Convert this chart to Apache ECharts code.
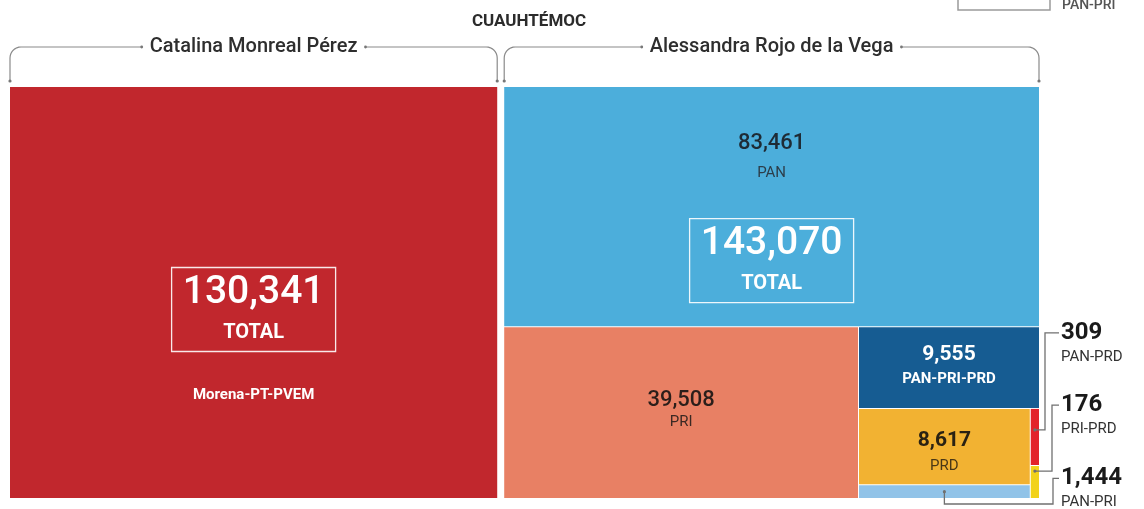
<!DOCTYPE html>
<html>
<head>
<meta charset="utf-8">
<script src="https://cdn.jsdelivr.net/npm/echarts@6/dist/echarts.min.js"></script>
<style>
  html, body { margin: 0; padding: 0; background: #fff; }
  #chart { width: 1144px; height: 509px; }
</style>
</head>
<body>
<div id="chart"></div>
<script>
// ---- data ----
const title = 'CUAUHTÉMOC';
const candidates = ['Catalina Monreal Pérez', 'Alessandra Rojo de la Vega'];
const candidateTotals = [130341, 143070];
const parties = ['Morena-PT-PVEM', 'PAN', 'PRI', 'PAN-PRI-PRD', 'PRD', 'PAN-PRI', 'PAN-PRD', 'PRI-PRD'];
const votes = [130341, 83461, 39508, 9555, 8617, 1444, 309, 176];
const partyCandidate = [0, 1, 1, 1, 1, 1, 1, 1];

// how boxes are cut: 'h' = side by side, 'v' = stacked, numbers = party index
const cuts = ['h', 0, ['v', 1, ['h', 2, ['v', 3, ['h', ['v', 4, 5], ['v', 6, 7]]]]]];

// ---- styles ----
const partyColors = ['#c1272d', '#4caedb', '#e88064', '#165c92', '#f2b232', '#91c3e8', '#e3232b', '#f2d21b'];
const FONT = 'Roboto, "Noto Sans", sans-serif';
// [dx, dy, color, weight, size] from box centre
const leafText = {
  0: { name: [0, 103, '#ffffff', 'bold', 15] },
  1: { value: [0, -63, '#1e2b35', 500, 22], name: [0, -33, '#2c3e4a', 'normal', 15] },
  2: { value: [0, -12, '#2b1e1a', 500, 22], name: [0, 10, '#3b2823', 'normal', 15] },
  3: { value: [0, -13, '#ffffff', 'bold', 21], name: [0, 12, '#ffffff', 'bold', 15] },
  4: { value: [0, -6, '#2a2213', 'bold', 21], name: [0, 20, '#4a3816', 'normal', 15] }
};
// callouts for the tiny boxes (offsets from the box, in px)
const callouts = {
  5: { sy: 0.5, under: 6, elbow: 14, ly: -7 },
  6: { sy: 21, elbow: 6, ly: -76 },
  7: { sy: 5, elbow: 13, ly: -61 }
};
const totalBox = [{ leaf: 0, dy: 17 }, { leaf: 1, dy: 54 }];

const fmt = v => echarts.format.addCommas(v);
const measureCtx = document.createElement('canvas').getContext('2d');
function textWidth(text, font) { measureCtx.font = font; return measureCtx.measureText(text).width; }

function sumOf(node) {
  return typeof node === 'number' ? votes[node] : node.slice(1).reduce((s, n) => s + sumOf(n), 0);
}
function cut(node, r, depth, out) {
  if (depth === 1) out.groups.push(r);
  if (typeof node === 'number') { out.leaves[node] = r; return; }
  const dir = node[0], kids = node.slice(1);
  const gap = depth === 0 ? 7 : 1;
  const total = sumOf(node);
  const span = (dir === 'h' ? r.w : r.h) - gap * (kids.length - 1);
  let pos = dir === 'h' ? r.x : r.y;
  kids.forEach(k => {
    const len = span * sumOf(k) / total;
    const sub = dir === 'h' ? { x: pos, y: r.y, w: len, h: r.h } : { x: r.x, y: pos, w: r.w, h: len };
    cut(k, sub, depth + 1, out);
    pos += len + gap;
  });
}
function layout(api) {
  const a = api.coord([0, 1]), b = api.coord([1, 0]);
  const out = { leaves: [], groups: [] };
  cut(cuts, { x: a[0], y: a[1], w: b[0] - a[0], h: b[1] - a[1] }, 0, out);
  return out;
}
function txt(text, x, y, fill, weight, size, align) {
  return {
    type: 'text', x: x, y: y, z2: 10,
    style: { text: text, fill: fill, fontWeight: weight, fontSize: size, fontFamily: FONT,
      align: align || 'center', verticalAlign: 'middle' }
  };
}
function arcPts(cx, cy, r, a0, a1) {
  const pts = [];
  for (let i = 0; i <= 8; i++) {
    const a = a0 + (a1 - a0) * i / 8;
    pts.push([cx + r * Math.cos(a), cy + r * Math.sin(a)]);
  }
  return pts;
}

function renderParty(params, api) {
  const i = api.value(0);
  const L = layout(api);
  const r = L.leaves[i];
  const g = L.groups[partyCandidate[i]];
  const cx = r.x + r.w / 2, cy = r.y + r.h / 2;
  const kids = [{ type: 'rect', shape: { x: r.x, y: r.y, width: r.w, height: r.h }, style: { fill: partyColors[i] } }];
  const t = leafText[i];
  if (t) {
    if (t.value) kids.push(txt(fmt(votes[i]), cx + t.value[0], cy + t.value[1], t.value[2], t.value[3], t.value[4]));
    if (t.name) kids.push(txt(parties[i], cx + t.name[0], cy + t.name[1], t.name[2], t.name[3], t.name[4]));
  }
  const c = callouts[i];
  if (c) {
    const right = g.x + g.w;
    const sy = c.sy < 1 ? r.y + r.h * c.sy : r.y + c.sy;
    const ly = r.y + c.ly;
    const ex = right + c.elbow;
    let pts;
    if (c.under) {
      const uy = r.y + r.h + c.under;
      pts = [[cx, sy], [cx, uy], [ex, uy], [ex, ly], [right + 20, ly]];
    } else {
      pts = [[cx, sy], [ex, sy], [ex, ly], [right + 20, ly]];
    }
    kids.push({ type: 'polyline', z2: 5, shape: { points: pts }, style: { stroke: '#707070', lineWidth: 1.3, fill: null } });
    kids.push({ type: 'circle', z2: 5, shape: { cx: cx, cy: sy, r: 1.6 }, style: { fill: '#707070' } });
    kids.push(txt(fmt(votes[i]), right + 22, ly, '#1a1a1a', 'bold', 24, 'left'));
    kids.push(txt(parties[i], right + 22, ly + 24, '#333333', 'normal', 15, 'left'));
  }
  return { type: 'group', children: kids };
}

function renderCandidate(params, api) {
  const k = api.value(0);
  const L = layout(api);
  const g = L.groups[k];
  const x0 = g.x, x1 = g.x + g.w, mid = g.x + g.w / 2;
  const yLine = g.y - 40, yEnd = g.y - 6, R = 11;
  const nameFont = '500 20px ' + FONT;
  const half = textWidth(candidates[k], nameFont) / 2 + 8;
  const lineStyle = { stroke: '#8a8a8a', lineWidth: 1.2, fill: null };
  const left = [[x0, yEnd]].concat(arcPts(x0 + R, yLine + R, R, Math.PI, Math.PI * 1.5), [[mid - half, yLine]]);
  const right = [[mid + half, yLine]].concat(arcPts(x1 - R, yLine + R, R, -Math.PI / 2, 0), [[x1, yEnd]]);
  const kids = [
    { type: 'polyline', shape: { points: left }, style: lineStyle },
    { type: 'polyline', shape: { points: right }, style: lineStyle },
    { type: 'circle', shape: { cx: x0, cy: yEnd, r: 1.6 }, style: { fill: '#777' } },
    { type: 'circle', shape: { cx: x1, cy: yEnd, r: 1.6 }, style: { fill: '#777' } },
    { type: 'circle', shape: { cx: mid - half, cy: yLine, r: 1.4 }, style: { fill: '#777' } },
    { type: 'circle', shape: { cx: mid + half, cy: yLine, r: 1.4 }, style: { fill: '#777' } },
    txt(candidates[k], mid, yLine, '#2e2e2e', 500, 20)
  ];
  // total box over the biggest party of the candidate
  const tb = totalBox[k];
  const lr = L.leaves[tb.leaf];
  const bx = lr.x + lr.w / 2, by = lr.y + lr.h / 2 + tb.dy;
  kids.push({ type: 'rect', z2: 10, shape: { x: bx - 82, y: by - 42, width: 164, height: 84 },
    style: { fill: null, stroke: 'rgba(255,255,255,0.9)', lineWidth: 1.3 } });
  kids.push(txt(fmt(candidateTotals[k]), bx, by - 16, '#ffffff', 500, 39));
  kids.push(txt('TOTAL', bx, by + 23, '#ffffff', 'bold', 20));
  return { type: 'group', children: kids };
}

const chart = echarts.init(document.getElementById('chart'));
chart.setOption({
  animation: false,
  backgroundColor: '#ffffff',
  title: {
    text: title, left: 524, top: 8, textAlign: 'center',
    textStyle: { fontFamily: FONT, fontSize: 17, fontWeight: 'bold', color: '#2b2b2b' }
  },
  grid: { left: 10, right: 105, top: 87, bottom: 11 },
  xAxis: { type: 'value', min: 0, max: 1, show: false },
  yAxis: { type: 'value', min: 0, max: 1, show: false },
  graphic: [
    { type: 'rect', shape: { x: 958, y: -30, width: 92, height: 40 }, style: { fill: '#fff', stroke: '#9a9a9a', lineWidth: 1.5 } },
    { type: 'text', x: 1062, y: 5, style: { text: 'PAN-PRI', fill: '#555', fontFamily: FONT, fontSize: 14, fontWeight: 500, verticalAlign: 'middle' } }
  ],
  series: [
    {
      type: 'custom', name: 'partidos', coordinateSystem: 'cartesian2d',
      data: votes.map((v, i) => [i, v]),
      encode: { x: 0, y: 1 },
      renderItem: renderParty
    },
    {
      type: 'custom', name: 'candidatos', coordinateSystem: 'cartesian2d',
      data: candidateTotals.map((v, i) => [i, v]),
      encode: { x: 0, y: 1 },
      renderItem: renderCandidate,
      z: 3
    }
  ]
});
</script>
</body>
</html>
